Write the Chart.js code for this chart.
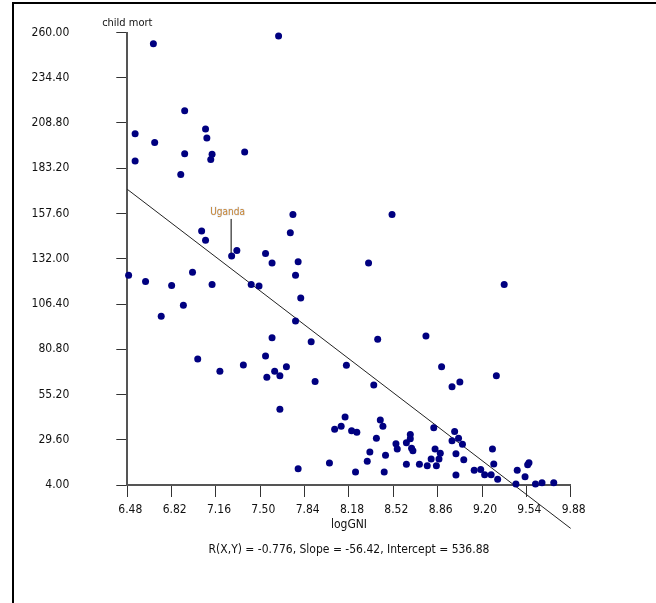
<!DOCTYPE html>
<html>
<head>
<meta charset="utf-8">
<script src="https://cdn.jsdelivr.net/npm/chart.js@4/dist/chart.umd.min.js"></script>
<style>
  html, body { margin: 0; padding: 0; background: #fff; }
  #wrap { position: relative; width: 656px; height: 603px; }
</style>
</head>
<body>
<div id="wrap"><canvas id="canvas" width="656" height="603"></canvas></div>
<script>
// values
var logGNI = [6.68, 7.64, 6.92, 6.54, 6.69, 7.08, 7.09, 6.92, 7.13, 7.12, 7.38, 6.54, 6.89,
  7.05, 7.08, 7.28, 7.32, 7.75, 7.73, 7.54, 7.59, 7.79, 7.77, 6.49, 6.62, 6.82, 6.98, 7.13,
  6.91, 6.74, 7.43, 7.49, 7.81, 7.77, 7.59, 7.89, 7.02, 7.19, 7.37, 7.54, 7.55, 7.61, 7.65,
  7.70, 7.92, 7.65, 7.79, 8.51, 8.33, 8.40, 8.77, 9.37, 9.31, 8.89, 8.97, 9.03, 8.16, 8.37,
  8.15, 8.07, 8.12, 8.20, 8.24, 8.42, 8.44, 8.39, 8.34, 8.32, 8.46, 8.45, 8.23, 8.03, 8.54,
  8.55, 8.62, 8.65, 8.65, 8.66, 8.67, 8.62, 8.72, 8.78, 8.81, 8.84, 8.88, 8.87, 8.85, 8.83,
  8.99, 8.97, 9.00, 9.00, 9.02, 9.05, 9.06, 9.14, 9.19, 9.22, 9.27, 9.28, 9.29, 9.32, 9.46,
  9.47, 9.53, 9.55, 9.56, 9.61, 9.66, 9.75, 9.90];
var childMort = [253.7, 258.0, 215.8, 202.7, 197.7, 205.4, 200.3, 191.4, 191.1, 188.1, 192.4, 187.3, 179.6,
  147.7, 142.4, 133.6, 136.6, 157.1, 146.7, 134.9, 129.6, 130.3, 122.6, 122.6, 119.2, 116.8, 124.3, 117.5,
  105.7, 99.4, 117.5, 116.6, 109.8, 96.8, 87.3, 85.1, 75.3, 68.3, 71.9, 77.0, 64.9, 68.3, 65.8,
  70.9, 62.5, 46.8, 13.2, 157.1, 129.6, 86.4, 88.3, 117.5, 65.8, 70.9, 59.6, 62.3, 71.7, 60.6,
  42.5, 35.5, 37.2, 34.7, 33.8, 40.8, 37.2, 30.4, 22.7, 17.4, 20.8, 11.4, 11.4, 16.4, 27.4,
  24.4, 27.9, 32.5, 30.2, 24.8, 23.4, 15.7, 15.7, 14.9, 18.7, 24.4, 21.9, 18.7, 14.9, 36.4,
  34.2, 29.1, 21.7, 9.7, 30.4, 27.0, 18.3, 12.3, 12.7, 9.8, 9.8, 24.4, 15.9, 7.2, 4.6,
  12.3, 8.7, 15.5, 16.6, 4.6, 5.3, 5.3, 1.9];
var xTicks = [6.48, 6.82, 7.16, 7.50, 7.84, 8.18, 8.52, 8.86, 9.20, 9.54, 9.88];
var yTicks = [4.00, 29.60, 55.20, 80.80, 106.40, 132.00, 157.60, 183.20, 208.80, 234.40, 260.00];
var slope = -56.42, intercept = 536.88, r = -0.776;
var labelName = 'Uganda', labelIndex = 15;

var narrow = "'DejaVu Sans Condensed', 'Liberation Sans', sans-serif";

var points = logGNI.map(function (x, i) { return { x: x, y: childMort[i] }; });
var fitLine = [xTicks[0], xTicks[xTicks.length - 1]].map(function (x) {
  return { x: x, y: intercept + slope * x };
});

var framePlugin = {
  id: 'frame',
  beforeDraw: function (chart) {
    var c = chart.ctx;
    c.save();
    c.strokeStyle = '#000';
    c.lineWidth = 2;
    c.beginPath();
    c.moveTo(13, 603); c.lineTo(13, 3); c.lineTo(656, 3);
    c.stroke();
    c.restore();
  }
};

var notesPlugin = {
  id: 'notes',
  afterDraw: function (chart) {
    var c = chart.ctx, area = chart.chartArea;
    c.save();
    // y axis name, above the axis
    c.fillStyle = '#111';
    c.font = '11px ' + narrow;
    c.textAlign = 'center';
    c.textBaseline = 'middle';
    c.fillText('child mort', area.left, 23);
    // labelled country
    var p = chart.getDatasetMeta(0).data[labelIndex];
    c.strokeStyle = '#000';
    c.lineWidth = 1;
    c.beginPath();
    c.moveTo(p.x - 0.5, p.y - 3);
    c.lineTo(p.x - 0.5, p.y - 37);
    c.stroke();
    c.font = '10px ' + narrow;
    c.textBaseline = 'bottom';
    c.lineWidth = 1;
    c.strokeStyle = 'rgba(170,195,235,0.35)';
    c.strokeText(labelName, p.x - 4, p.y - 39);
    c.fillStyle = '#c98530';
    c.fillText(labelName, p.x - 4, p.y - 39);
    c.restore();
  }
};

window.onload = function () {
  var ctx = document.getElementById('canvas').getContext('2d');
  window.myChart = new Chart(ctx, {
    type: 'scatter',
    data: {
      datasets: [{
        label: 'child mort',
        data: points,
        backgroundColor: '#000080',
        borderColor: '#000080',
        borderWidth: 0,
        pointRadius: 3.5,
        pointHoverRadius: 3.5,
        clip: false
      }, {
        type: 'line',
        label: 'fit',
        data: fitLine,
        borderColor: '#222',
        borderWidth: 1,
        pointRadius: 0,
        fill: false,
        clip: false
      }]
    },
    options: {
      responsive: false,
      animation: false,
      events: [],
      layout: { padding: { left: 0, top: 32.5, right: 85.3, bottom: 44 } },
      plugins: {
        legend: { display: false },
        tooltip: { enabled: false },
        title: {
          display: true,
          position: 'bottom',
          fullSize: false,
          text: 'R(X,Y) = ' + r.toFixed(3) + ', Slope = ' + slope.toFixed(2) + ', Intercept = ' + intercept.toFixed(2),
          color: '#111',
          font: { family: narrow, size: 12, weight: 'normal', lineHeight: 1.5 },
          padding: { top: 7, bottom: 0 }
        }
      },
      scales: {
        x: {
          type: 'linear',
          min: xTicks[0],
          max: xTicks[xTicks.length - 1],
          afterBuildTicks: function (s) { s.ticks = xTicks.map(function (v) { return { value: v }; }); },
          afterFit: function (s) { s.height = 49; },
          grid: { display: true, drawOnChartArea: false, drawTicks: true, tickLength: 12, color: '#333', lineWidth: 1 },
          border: { display: true, color: '#555', width: 2 },
          ticks: {
            autoSkip: false,
            maxRotation: 0,
            padding: 6,
            labelOffset: 3,
            color: '#111',
            font: { family: narrow, size: 12 },
            callback: function (v) { return Number(v).toFixed(2); }
          },
          title: {
            display: true,
            text: 'logGNI',
            color: '#111',
            font: { family: narrow, size: 12, lineHeight: 1.5 },
            padding: { top: 0, bottom: 0 }
          }
        },
        y: {
          type: 'linear',
          min: yTicks[0],
          max: yTicks[yTicks.length - 1],
          afterBuildTicks: function (s) { s.ticks = yTicks.map(function (v) { return { value: v }; }); },
          afterFit: function (s) { s.width = 127.3; s.paddingTop = 8; s.paddingBottom = 8; },
          grid: { display: true, drawOnChartArea: false, drawTicks: true, tickLength: 11, color: '#333', lineWidth: 1 },
          border: { display: true, color: '#555', width: 2 },
          ticks: {
            autoSkip: false,
            padding: 47,
            color: '#111',
            font: { family: narrow, size: 12 },
            callback: function (v) { return Number(v).toFixed(2); }
          }
        }
      }
    },
    plugins: [framePlugin, notesPlugin]
  });
};
</script>
</body>
</html>
